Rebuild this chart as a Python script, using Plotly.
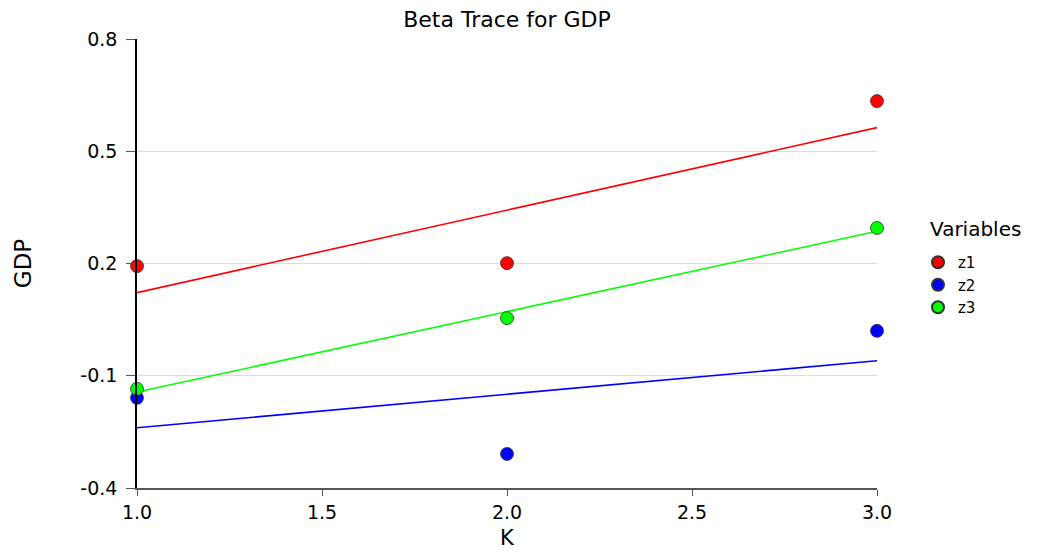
import numpy as np
import plotly.graph_objects as go

k_values = [1, 2, 3]
z1 = [0.193, 0.201, 0.634]
z2 = [-0.159, -0.309, 0.020]
z3 = [-0.135, 0.054, 0.295]
series_names = ["z1", "z2", "z3"]
series_colors = ["#ff0000", "#0000ff", "#00ff00"]
y_ticks = [-0.4, -0.1, 0.2, 0.5, 0.8]
x_ticks = [1.0, 1.5, 2.0, 2.5, 3.0]

FONT = "DejaVu Sans, Liberation Sans, Arial, sans-serif"
W, H = 1045, 542
L, R, T, B = 129, 176, 31, 62
PW, PH = W - L - R, H - T - B

fig = go.Figure()

for name, vals, col in zip(series_names, [z1, z2, z3], series_colors):
    slope, intercept = np.polyfit(k_values, vals, 1)
    xs = np.array([min(k_values), max(k_values)], dtype=float)
    fig.add_trace(go.Scatter(x=xs, y=slope * xs + intercept, mode="lines",
                             line=dict(color=col, width=1.6), showlegend=False,
                             hoverinfo="skip"))

for name, vals, col in zip(series_names, [z1, z2, z3], series_colors):
    fig.add_trace(go.Scatter(x=k_values, y=vals, mode="markers", name=name,
                             marker=dict(color=col, size=13, line=dict(color="#333333", width=0.8)),
                             cliponaxis=False))

fig.add_annotation(text="Variables", xref="paper", yref="paper",
                   x=(920 - L) / PW, xanchor="left",
                   y=1 - (221 - T) / PH, yanchor="middle",
                   showarrow=False, font=dict(size=20, family=FONT, color="black"))

fig.update_layout(
    width=W, height=H,
    margin=dict(l=L, r=R, t=T, b=B),
    paper_bgcolor="white", plot_bgcolor="white",
    font=dict(family=FONT, color="black"),
    title=dict(text="Beta Trace for GDP", x=(L + (W - R)) / 2 / W, xanchor="center",
               y=1 - 11 / H, yanchor="middle", font=dict(size=22, family=FONT)),
    xaxis=dict(range=[1, 3], tickvals=x_ticks, ticktext=[f"{v:.1f}" for v in x_ticks],
               automargin=False,
               showgrid=False, zeroline=False, showline=True, linecolor="#555555", linewidth=1.5,
               ticks="outside", ticklen=6, tickcolor="#555555", tickfont=dict(size=19),
               title=dict(text="K", font=dict(size=21), standoff=14)),
    yaxis=dict(range=[-0.4, 0.8], tickvals=y_ticks, ticktext=[f"{v:.1f}" for v in y_ticks],
               automargin=False,
               showgrid=True, gridcolor="#dddddd", gridwidth=1, zeroline=False,
               showline=True, linecolor="black", linewidth=1.5,
               ticks="outside", ticklen=9, tickcolor="#555555", tickfont=dict(size=19),
               ticklabelstandoff=5,
               title=dict(text="GDP", font=dict(size=23), standoff=42)),
    legend=dict(font=dict(size=15),
                x=(910 - L) / PW, xanchor="left", y=1 - (238 - T) / PH, yanchor="top",
                itemsizing="constant", tracegroupgap=0, bgcolor="rgba(0,0,0,0)"),
)

fig.write_html("out.html")
